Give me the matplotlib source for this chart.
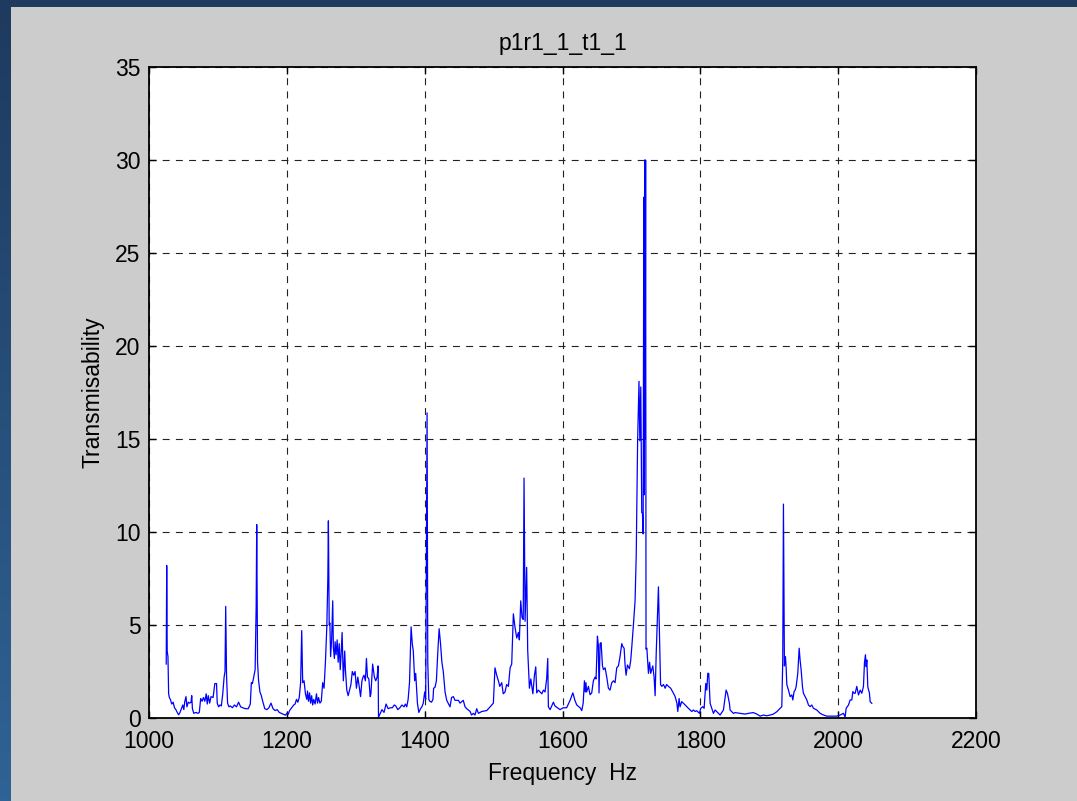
import numpy as np
import matplotlib
matplotlib.use("Agg")
import matplotlib.pyplot as plt

# Transmissibility spectrum, test p1r1_1_t1_1
freq_hz = [
    1025.0, 1025.7, 1026.4, 1027.5, 1028.5, 1029.5, 1031, 1033, 1035, 1037, 1039, 1041, 1043,
    1045, 1047, 1049, 1050.5, 1052, 1053.7, 1055, 1057, 1059, 1061, 1062, 1063, 1065, 1068,
    1071, 1073, 1075, 1077, 1079, 1081, 1083, 1084.5, 1086, 1088, 1090, 1093, 1095.5, 1098,
    1099, 1101, 1103, 1105, 1107, 1109, 1110.3, 1111.3, 1112.5, 1114, 1116, 1118, 1121, 1124,
    1127, 1130, 1133, 1136, 1140, 1144, 1147, 1148.5, 1150, 1152, 1154, 1155.5, 1156.3, 1157.5,
    1159, 1161, 1163, 1165, 1168, 1171, 1174, 1177, 1180, 1183, 1186, 1189, 1192, 1195, 1198,
    1200, 1202, 1204, 1207, 1210, 1212, 1214, 1216, 1218, 1220, 1221.6, 1223, 1225, 1227, 1229,
    1230, 1231.5, 1233, 1234.5, 1236, 1237.5, 1239, 1241, 1243, 1244.5, 1246, 1248, 1250, 1252,
    1254, 1256, 1258, 1259.5, 1260.3, 1261.5, 1262.5, 1263.5, 1265, 1266.6, 1267.5, 1269, 1270,
    1271.5, 1273, 1274.5, 1276, 1277.5, 1279, 1280.2, 1282, 1284, 1285, 1287, 1289, 1291, 1293,
    1295, 1297, 1299, 1301, 1303, 1305, 1307, 1309, 1310.5, 1312, 1314, 1315.5, 1317, 1319,
    1321, 1322, 1324.5, 1327, 1329, 1331, 1332.5, 1333, 1335, 1338, 1341, 1344, 1347, 1350,
    1353, 1356, 1358, 1361, 1364, 1367, 1370, 1372, 1374, 1376, 1378, 1380.3, 1382, 1383.5,
    1385.5, 1387, 1389.5, 1391.5, 1394, 1396, 1398, 1400, 1401.5, 1402.5, 1403.5, 1404.5, 1406,
    1407.5, 1410, 1412, 1413, 1415, 1417, 1419, 1421, 1423, 1425, 1427, 1429.6, 1432, 1436.8,
    1439, 1441.7, 1444, 1449, 1451.3, 1456, 1458.6, 1461, 1466, 1468, 1470.7, 1473, 1475.5,
    1478, 1482.8, 1490, 1495, 1499.7, 1502, 1504.5, 1507, 1509, 1511.8, 1514, 1516.6, 1519,
    1521.5, 1524, 1526.3, 1527.8, 1528.7, 1531, 1533.6, 1536, 1537.4, 1539.4, 1541.3, 1543,
    1544.2, 1545.7, 1548, 1549.5, 1552, 1554, 1557, 1559.3, 1561.2, 1562.6, 1565, 1567.5, 1570,
    1572.3, 1574.7, 1577, 1578.6, 1579.5, 1582, 1586.8, 1589, 1592.6, 1596.5, 1601, 1606, 1611,
    1615, 1618, 1620.7, 1625.5, 1628, 1630, 1631.8, 1633, 1634, 1635, 1637.6, 1640, 1642.4,
    1644.8, 1647.3, 1648.7, 1650.7, 1652, 1653, 1654.5, 1656, 1658, 1659.4, 1661.8, 1664.2,
    1666.6, 1669, 1671.5, 1674, 1676.3, 1678.7, 1681.1, 1683.5, 1686, 1687.4, 1689.4, 1690.8,
    1692.3, 1694.2, 1697.1, 1699, 1700.5, 1702.9, 1705.3, 1707, 1709, 1711, 1712.2, 1713.6,
    1715, 1716, 1717, 1718, 1718.5, 1719.2, 1720, 1720.6, 1721.2, 1722.4, 1724.7, 1726.3, 1728,
    1731, 1732.9, 1734.4, 1736, 1739.2, 1740.5, 1742.3, 1744, 1746.5, 1749, 1751, 1753.7, 1757,
    1761, 1763.4, 1766, 1767.3, 1769.2, 1770.6, 1773, 1778, 1782.7, 1787.6, 1790, 1792.4,
    1794.8, 1798.7, 1800.6, 1803.5, 1805.5, 1807.9, 1809.4, 1810.8, 1812.2, 1814.2, 1816.6,
    1819, 1821.5, 1823.9, 1826.3, 1828.7, 1833.5, 1837.4, 1839.3, 1842.2, 1843.2, 1845.6, 1848,
    1850.5, 1857.7, 1865, 1869.8, 1877, 1882, 1886.8, 1891.6, 1896.4, 1901.3, 1906, 1911,
    1915.8, 1918.2, 1919.6, 1920.6, 1922, 1923.5, 1924.5, 1925.5, 1927.9, 1930.3, 1932.7,
    1934.2, 1936, 1937.6, 1939, 1941.4, 1943.4, 1944.8, 1946.3, 1948.2, 1949.6, 1952, 1954.5,
    1956.9, 1959.3, 1961.7, 1964.2, 1969, 1973.8, 1978.7, 1983.5, 1993, 1998, 2002.9, 2007.7,
    2010.1, 2011.6, 2015, 2017.4, 2019.8, 2021.3, 2023.2, 2024.7, 2027, 2029.5, 2032, 2034.3,
    2036.7, 2038.2, 2039.6, 2040.6, 2041.6, 2043, 2045.4, 2046.4, 2048.8,
]

transmisability = [
    2.9, 8.2, 3.6, 3.3, 1.3, 1.1, 1.0, 0.75, 0.85, 0.55, 0.45, 0.3, 0.17,
    0.3, 0.5, 0.7, 0.45, 0.9, 1.15, 0.6, 0.85, 0.8, 0.85, 1.2, 0.5, 0.25, 0.3,
    0.25, 0.3, 1.05, 0.9, 1.1, 0.9, 1.3, 0.75, 1.2, 0.8, 1.15, 1.1, 1.85, 1.85,
    0.8, 0.6, 0.7, 0.65, 1.3, 2.2, 2.5, 6.0, 2.3, 0.8, 0.6, 0.65, 0.55, 0.7,
    0.6, 0.85, 0.6, 0.55, 0.5, 0.5, 0.75, 1.9, 1.85, 2.2, 2.6, 6.0, 10.4, 3.0,
    2.0, 1.4, 1.2, 0.9, 0.5, 0.45, 0.55, 0.8, 0.5, 0.4, 0.45, 0.3, 0.25, 0.2, 0.15,
    0.25, 0.2, 0.4, 0.55, 0.7, 0.75, 1.0, 0.85, 1.1, 1.9, 4.7, 1.9, 2.0, 1.3, 1.0,
    1.45, 0.9, 1.35, 0.8, 1.2, 0.7, 1.0, 0.75, 1.3, 0.8, 1.1, 0.8, 0.9, 1.9,
    1.6, 3.0, 4.9, 7.5, 10.6, 5.0, 5.1, 3.3, 4.2, 6.3, 3.8, 3.2, 4.1,
    3.4, 4.2, 3.0, 4.0, 2.6, 3.6, 4.6, 2.0, 3.6, 2.6, 1.5, 1.2, 1.5, 1.8,
    2.5, 2.3, 2.5, 1.6, 2.2, 1.7, 1.15, 2.0, 2.2, 2.3, 2.0, 3.2, 2.2, 2.1,
    1.15, 1.3, 2.9, 2.2, 2.0, 2.2, 2.8, 0.05, 0.2, 0.45, 0.3, 0.75, 0.5, 0.55,
    0.55, 0.7, 0.65, 0.45, 0.55, 0.7, 0.6, 0.75, 0.6, 1.0, 1.9, 4.9, 4.0, 3.6,
    2.0, 2.4, 0.8, 0.3, 0.5, 0.6, 0.8, 1.4, 1.0, 9.0, 16.4, 3.0, 1.0,
    0.9, 0.85, 1.0, 1.6, 1.65, 2.0, 3.5, 4.8, 4.0, 3.0, 2.5, 1.4, 0.95, 0.6,
    1.1, 1.15, 0.95, 0.95, 0.8, 0.95, 0.6, 0.5, 0.35, 0.16, 0.25, 0.16, 0.5,
    0.25, 0.35, 0.4, 0.6, 0.8, 2.7, 2.3, 2.0, 1.7, 1.9, 1.3, 1.4, 1.8,
    1.7, 2.7, 2.9, 4.7, 5.6, 4.9, 4.3, 4.6, 4.2, 6.3, 5.4, 5.3,
    12.9, 5.2, 8.1, 3.65, 1.6, 2.1, 1.3, 2.3, 2.75, 1.35, 1.5, 1.4, 1.3,
    1.5, 1.4, 2.1, 3.2, 0.6, 0.45, 0.85, 0.65, 0.55, 0.45, 0.55, 0.55, 0.95,
    1.35, 0.95, 0.7, 0.55, 0.4, 0.8, 2.0, 1.4, 1.9, 1.4, 1.7, 1.25, 1.35,
    2.0, 2.2, 2.1, 4.4, 3.9, 1.35, 4.0, 4.05, 2.8, 2.6, 2.7, 2.2,
    1.6, 1.5, 1.9, 2.0, 1.9, 2.7, 2.8, 3.3, 4.0, 3.85, 3.75, 2.85,
    2.3, 2.85, 2.65, 3.1, 3.8, 5.0, 6.3, 8.8, 14.9, 18.1, 14.9, 17.8,
    11.05, 11.0, 9.9, 28.0, 12.0, 30.0, 15.0, 30.0, 3.7, 3.75, 2.4, 3.0, 2.4,
    2.8, 2.2, 1.2, 3.5, 7.05, 4.9, 1.8, 1.7, 1.8, 1.6, 1.8, 1.7, 1.6,
    1.33, 1.15, 0.8, 0.35, 1.05, 0.6, 0.88, 0.7, 0.52, 0.35, 0.43, 0.35,
    0.39, 0.25, 0.52, 0.61, 0.52, 1.86, 1.5, 2.4, 2.4, 0.79, 0.52,
    0.25, 0.43, 0.34, 0.25, 0.16, 0.43, 1.5, 1.33, 0.79, 0.43, 0.34, 0.25,
    0.29, 0.25, 0.21, 0.25, 0.29, 0.21, 0.1, 0.16, 0.12, 0.16, 0.21, 0.34,
    0.52, 0.61, 3.1, 11.5, 2.8, 3.3, 2.7, 1.8, 1.5, 1.15, 1.24,
    0.97, 1.42, 1.5, 1.68, 2.4, 3.75, 3.1, 2.58, 1.68, 1.33, 1.15, 0.97,
    0.7, 0.61, 0.7, 0.52, 0.43, 0.25, 0.16, 0.1, 0.1, 0.1, 0.16, 0.25,
    0.05, 0.52, 0.7, 0.97, 0.97, 1.42, 1.33, 1.33, 1.7, 1.24, 1.5, 1.33,
    1.7, 3.0, 3.4, 2.76, 3.12, 1.68, 1.33, 0.88, 0.79,
]

x_ticks = [1000, 1200, 1400, 1600, 1800, 2000, 2200]
y_ticks = [0, 5, 10, 15, 20, 25, 30, 35]
title_text = "p1r1_1_t1_1"
x_label = "Frequency  Hz"
y_label = "Transmisability"

plt.rcParams["font.family"] = ["Liberation Sans", "DejaVu Sans"]
plt.rcParams["lines.scale_dashes"] = False

W, H = 1077, 801
fig = plt.figure(figsize=(W / 100, H / 100), dpi=100)

# slide-style backdrop: navy gradient frame with a grey panel
bg = fig.add_axes([0, 0, 1, 1], zorder=-10)
bg.set_axis_off()
top_c = np.array([0x1e, 0x3a, 0x5e]) / 255
bot_c = np.array([0x2f, 0x63, 0x95]) / 255
t = np.linspace(0, 1, 256)[:, None, None]
grad = top_c * (1 - t) + bot_c * t
bg.imshow(np.repeat(grad, 4, axis=1), aspect="auto", extent=[0, 1, 0, 1],
          origin="upper")
bg.add_patch(plt.Rectangle((11 / W, 0), 1 - 11 / W, 1 - 7 / H,
                           facecolor="#cccccc", edgecolor="none"))
bg.set_xlim(0, 1)
bg.set_ylim(0, 1)

ax = fig.add_axes([149 / W, 1 - 718 / H, (976 - 149) / W, (718 - 67) / H])
ax.set_facecolor("white")
ax.plot(freq_hz, transmisability, color="#0000ff", lw=0.9)

ax.set_xlim(1000, 2200)
ax.set_ylim(0, 35)
ax.set_xticks(x_ticks)
ax.set_yticks(y_ticks)
ax.grid(True, color="#222222", linestyle=(0, (5, 4.5)), linewidth=0.8)
ax.set_axisbelow(True)
for s in ax.spines.values():
    s.set_linewidth(1.3)
    s.set_color("black")
ax.tick_params(direction="in", length=5, width=1, top=True, right=True,
               labelsize=16.5, colors="black")
ax.tick_params(axis="x", pad=9)
ax.tick_params(axis="y", pad=6)

ax.set_title(title_text, fontsize=16.5, pad=12)
ax.set_xlabel(x_label, fontsize=16.5, labelpad=6)
ax.set_ylabel(y_label, fontsize=16.5, labelpad=8)

fig.savefig("out.png", dpi=100, facecolor=fig.get_facecolor())
